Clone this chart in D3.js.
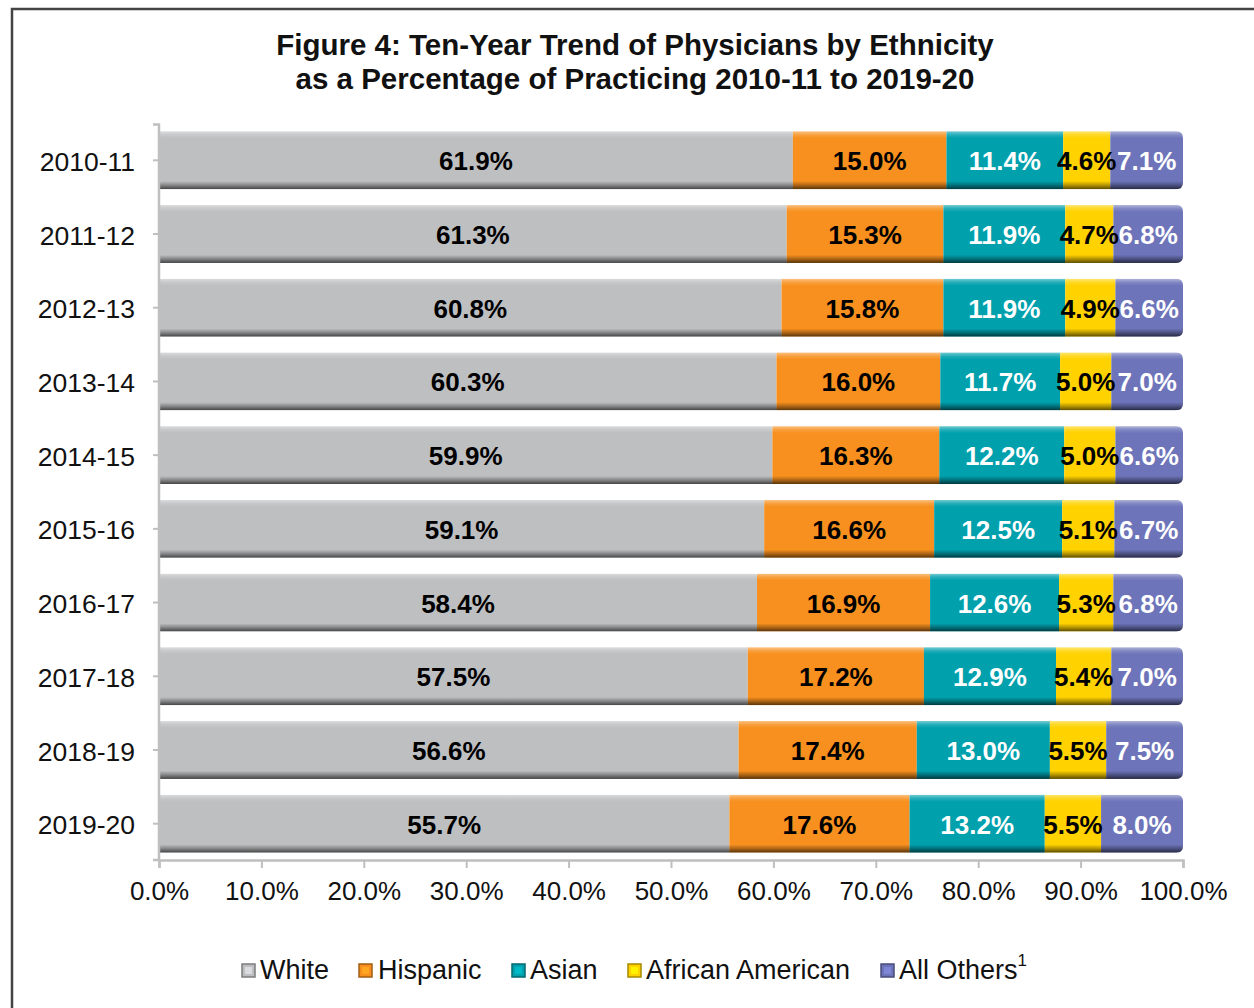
<!DOCTYPE html>
<html>
<head>
<meta charset="utf-8">
<script src="https://cdn.jsdelivr.net/npm/d3@7"></script>
<style>
  body { margin: 0; background: #fff; }
  text { font-family: "Liberation Sans", Arial, sans-serif; }
</style>
</head>
<body>
<div class="chart"></div>
<script>
// data
var years = ['2010-11', '2011-12', '2012-13', '2013-14', '2014-15', '2015-16', '2016-17', '2017-18', '2018-19', '2019-20'];
var groups = ['White', 'Hispanic', 'Asian', 'African American', 'All Others'];
var white    = [61.9, 61.3, 60.8, 60.3, 59.9, 59.1, 58.4, 57.5, 56.6, 55.7];
var hispanic = [15.0, 15.3, 15.8, 16.0, 16.3, 16.6, 16.9, 17.2, 17.4, 17.6];
var asian    = [11.4, 11.9, 11.9, 11.7, 12.2, 12.5, 12.6, 12.9, 13.0, 13.2];
var african  = [4.6, 4.7, 4.9, 5.0, 5.0, 5.1, 5.3, 5.4, 5.5, 5.5];
var others   = [7.1, 6.8, 6.6, 7.0, 6.6, 6.7, 6.8, 7.0, 7.5, 8.0];
var xTicks = [0, 10, 20, 30, 40, 50, 60, 70, 80, 90, 100];

var colors = ['#bebfc1', '#f7901e', '#00a0ad', '#ffd200', '#6d74b9'];
var labelColors = ['#000', '#000', '#fff', '#000', '#fff'];

var svgWidth = 1254, svgHeight = 1008;
var margin = {top: 124, right: 71, bottom: 148, left: 159};
var width = svgWidth - margin.left - margin.right;
var height = svgHeight - margin.top - margin.bottom;

var svg = d3.select('.chart').append('svg')
    .attr('width', svgWidth)
    .attr('height', svgHeight);

// frame
svg.append('path')
    .attr('d', 'M12,1008 V9 H1254')
    .attr('fill', 'none')
    .attr('stroke', '#444')
    .attr('stroke-width', 2.5);

// title
var title = svg.append('text')
    .attr('text-anchor', 'middle')
    .attr('font-weight', 'bold')
    .attr('font-size', '29.5px')
    .attr('fill', '#111');
title.append('tspan').attr('x', 635).attr('y', 55).text('Figure 4: Ten-Year Trend of Physicians by Ethnicity');
title.append('tspan').attr('x', 635).attr('y', 89).text('as a Percentage of Practicing 2010-11 to 2019-20');

var defs = svg.append('defs');
var bevel = defs.append('linearGradient').attr('id', 'bevel')
    .attr('x1', 0).attr('y1', 0).attr('x2', 0).attr('y2', 1);
bevel.append('stop').attr('offset', '0%').attr('stop-color', '#fff').attr('stop-opacity', 0.45);
bevel.append('stop').attr('offset', '6%').attr('stop-color', '#fff').attr('stop-opacity', 0.15);
bevel.append('stop').attr('offset', '12%').attr('stop-color', '#fff').attr('stop-opacity', 0);
bevel.append('stop').attr('offset', '86%').attr('stop-color', '#000').attr('stop-opacity', 0);
bevel.append('stop').attr('offset', '93%').attr('stop-color', '#000').attr('stop-opacity', 0.3);
bevel.append('stop').attr('offset', '100%').attr('stop-color', '#000').attr('stop-opacity', 0.65);

var chart = svg.append('g')
    .attr('transform', 'translate(' + margin.left + ',' + margin.top + ')');

var xScale = d3.scaleLinear().domain([0, 100]).range([0, width]);
var yScale = d3.scaleBand().domain(years).range([0, height]).paddingInner(0.215).paddingOuter(0.1);

var rows = years.map(function(y, i) {
    var vals = [white[i], hispanic[i], asian[i], african[i], others[i]];
    var acc = 0;
    var segs = vals.map(function(v, k) {
        var s = {year: y, k: k, v: v, x0: acc, x1: acc + v};
        acc += v;
        return s;
    });
    segs[segs.length - 1].x1 = 100;
    return {year: y, segs: segs, idx: i};
});

// clip paths with rounded right end
var r = 7;
rows.forEach(function(row) {
    var y0 = yScale(row.year), h = yScale.bandwidth(), x1 = xScale(100);
    defs.append('clipPath').attr('id', 'clip' + row.idx)
        .append('path')
        .attr('d', 'M0,' + y0 + ' H' + (x1 - r) + ' Q' + x1 + ',' + y0 + ' ' + x1 + ',' + (y0 + r) +
            ' V' + (y0 + h - r) + ' Q' + x1 + ',' + (y0 + h) + ' ' + (x1 - r) + ',' + (y0 + h) + ' H0 Z');
});

var rowG = chart.selectAll('.row')
    .data(rows)
    .enter()
    .append('g')
    .attr('class', 'row')
    .attr('clip-path', function(d) { return 'url(#clip' + d.idx + ')'; });

rowG.selectAll('rect.seg')
    .data(function(d) { return d.segs; })
    .enter()
    .append('rect')
    .attr('class', 'seg')
    .attr('x', function(d) { return xScale(d.x0); })
    .attr('width', function(d) { return xScale(d.x1) - xScale(d.x0); })
    .attr('y', function(d) { return yScale(d.year); })
    .attr('height', yScale.bandwidth())
    .attr('fill', function(d) { return colors[d.k]; });

rowG.append('rect')
    .attr('x', 0)
    .attr('width', xScale(100))
    .attr('y', function(d) { return yScale(d.year); })
    .attr('height', yScale.bandwidth())
    .attr('fill', 'url(#bevel)');

// value labels
chart.selectAll('g.lbl')
    .data(rows)
    .enter()
    .append('g')
    .selectAll('text')
    .data(function(d) { return d.segs; })
    .enter()
    .append('text')
    .attr('x', function(d) { return xScale((d.x0 + d.x1) / 2); })
    .attr('y', function(d) { return yScale(d.year) + yScale.bandwidth() / 2 + 10; })
    .attr('text-anchor', 'middle')
    .attr('font-size', '26px')
    .attr('font-weight', 'bold')
    .attr('fill', function(d) { return labelColors[d.k]; })
    .text(function(d) { return d.v.toFixed(1) + '%'; });

// axes
var axisColor = '#bfbfbf';
var bottomAxis = d3.axisBottom(xScale).tickValues(xTicks).tickSize(8).tickPadding(14)
    .tickFormat(function(d) { return d.toFixed(1) + '%'; });
var leftAxis = d3.axisLeft(yScale).tickSize(6).tickPadding(18);

var xAxisG = chart.append('g')
    .attr('transform', 'translate(0,' + height + ')')
    .call(bottomAxis);
var yAxisG = chart.append('g').call(leftAxis);

[xAxisG, yAxisG].forEach(function(g) {
    g.select('.domain').attr('stroke', axisColor).attr('stroke-width', 2.5);
    g.selectAll('.tick line').attr('stroke', axisColor).attr('stroke-width', 2);
    g.selectAll('.tick text')
        .attr('fill', '#111')
        .attr('font-size', '26px')
        .attr('font-family', '"Liberation Sans", Arial, sans-serif');
});
yAxisG.selectAll('.tick text').attr('dy', '0.4em').attr('font-size', '26.5px');
yAxisG.select('.domain').attr('d', 'M-6,0.5H0V' + height + 'H-6');

// legend
var legendItems = [
    {name: 'White', sx: 242, tx: 260},
    {name: 'Hispanic', sx: 359, tx: 378},
    {name: 'Asian', sx: 512, tx: 530},
    {name: 'African American', sx: 628, tx: 646},
    {name: 'All Others', sx: 881, tx: 899}
];
var legend = svg.append('g');
legendItems.forEach(function(it, k) {
    legend.append('rect')
        .attr('x', it.sx).attr('y', 964)
        .attr('width', 13).attr('height', 13)
        .attr('fill', colors[k])
        .attr('stroke', d3.color(colors[k]).darker(1.2))
        .attr('stroke-width', 1.5);
    legend.append('rect')
        .attr('x', it.sx + 3).attr('y', 967)
        .attr('width', 7).attr('height', 7)
        .attr('fill', d3.color(colors[k]).brighter(0.4));
    var t = legend.append('text')
        .attr('x', it.tx).attr('y', 979)
        .attr('font-size', '27px')
        .attr('fill', '#111')
        .text(groups[k]);
    if (k === 4) {
        t.append('tspan').attr('dy', -13).attr('font-size', '17px').text('1');
    }
});
</script>
</body>
</html>
